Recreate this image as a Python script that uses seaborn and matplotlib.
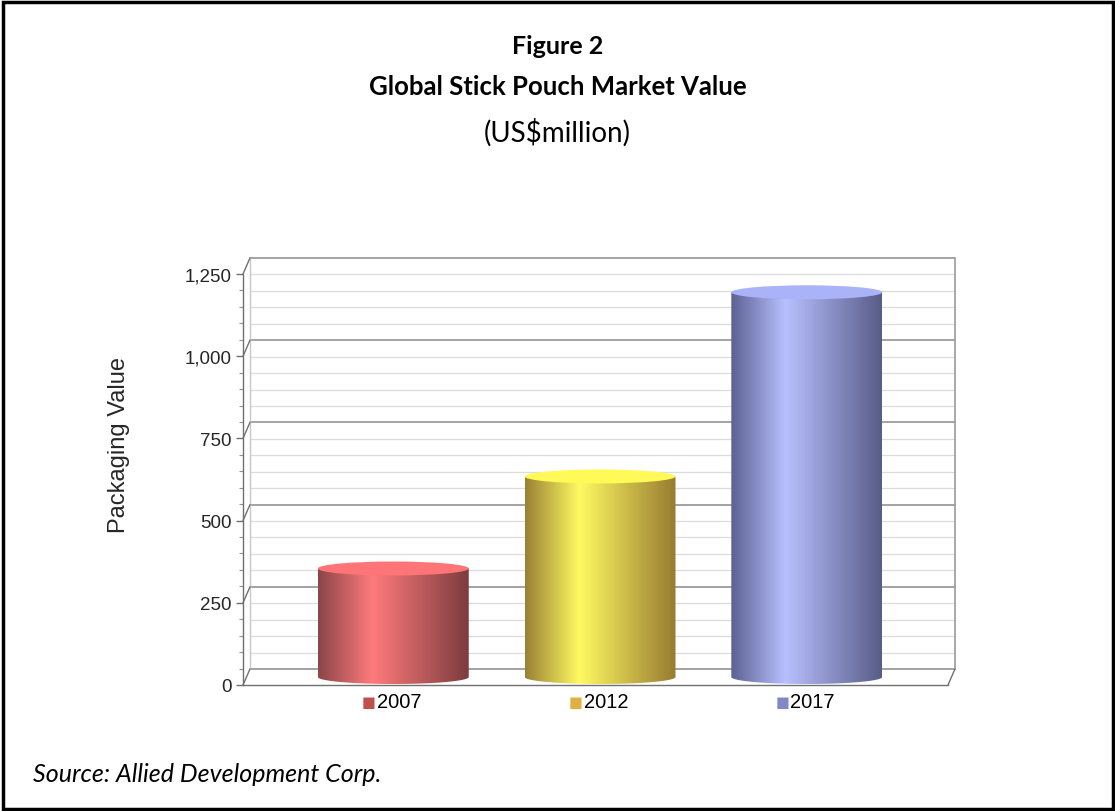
import numpy as np
import pandas as pd
import matplotlib
matplotlib.use("Agg")
import matplotlib.pyplot as plt
import seaborn as sns
from matplotlib.path import Path
from matplotlib.patches import Ellipse, Rectangle
from matplotlib.colors import LinearSegmentedColormap
from matplotlib.transforms import ScaledTranslation

# ---- data ----
years = ["2007", "2012", "2017"]
values = [330, 610, 1170]
legend_colors = ["#c0504d", "#e0b040", "#8088c8"]
side_dark_left = ["#8a4648", "#9a8034", "#5c6192"]
side_light = ["#ff7a7c", "#fffa62", "#b8c0ff"]
side_dark_right = ["#7c3c3e", "#977b30", "#585c88"]
top_colors = ["#ff7577", "#fffa58", "#aab2f8"]
y_ticks = [0, 250, 500, 750, 1000, 1250]
y_tick_labels = ["0", "250", "500", "750", "1,000", "1,250"]

title1 = "Figure 2"
title2 = "Global Stick Pouch Market Value"
title3 = "(US$million)"
ylabel = "Packaging Value"
source = "Source: Allied Development Corp."

sns.set_style("white")
plt.rcParams["font.family"] = ["Liberation Sans", "DejaVu Sans"]

W, H, DPI = 1115, 812, 100
fig = plt.figure(figsize=(W / DPI, H / DPI), dpi=DPI)

# front plane of the 3D box (pixels)
ax_l, ax_r, ax_b, ax_t = 243, 948, 686, 275
ax = fig.add_axes([ax_l / W, (H - ax_b) / H, (ax_r - ax_l) / W, (ax_b - ax_t) / H])
ax.set_facecolor("none")

df = pd.DataFrame({"year": years, "value": values})
sns.barplot(data=df, x="year", y="value", hue="year", palette=legend_colors,
            width=0.73, legend=False, ax=ax, saturation=1)

ymax = 1250
ax.set_ylim(0, ymax)
ax.set_xlim(-0.71, 2.70)

px_per_unit = (ax_b - ax_t) / ymax
depth_x, depth_y = 7, 16  # px of 3D depth
dx_ax = depth_x / (ax_r - ax_l)
dy_data = depth_y / px_per_unit

back_tr = ax.get_yaxis_transform() + ScaledTranslation(depth_x / DPI, depth_y / DPI, fig.dpi_scale_trans)
ytr = ax.get_yaxis_transform()

# back wall gridlines
for yv in np.arange(0, ymax + 1, 50):
    major = yv % 250 == 0
    ax.plot([0, 1], [yv, yv], transform=back_tr, clip_on=False,
            color="#8a8a8a" if major else "#dcdcdc", lw=1.1 if major else 0.9,
            zorder=0.5 if major else 0.4)
# back wall edges
ax.plot([1, 1], [0, ymax], transform=back_tr, clip_on=False, color="#9a9a9a", lw=1.2, zorder=0.6)
ax.plot([0, 0], [0, ymax], transform=back_tr, clip_on=False, color="#c8c8c8", lw=1.0, zorder=0.6)
# connectors from front axis to back wall at major ticks
for yv in y_ticks:
    ax.plot([0, dx_ax], [yv, yv + dy_data], transform=ytr, clip_on=False,
            color="#707070", lw=1.0, zorder=0.7)
# floor right diagonal
ax.plot([1, 1 + dx_ax], [0, dy_data], transform=ytr, clip_on=False, color="#707070", lw=1.0)

# cylinders
bar_tr = ax.transData + ScaledTranslation(depth_x / 2 / DPI, depth_y / 2 / DPI, fig.dpi_scale_trans)
ell_h = 14 / px_per_unit
for i, p in enumerate(ax.patches):
    x0, w, v = p.get_x(), p.get_width(), p.get_height()
    cx = x0 + w / 2
    p.set_visible(False)
    th = np.linspace(np.pi, 2 * np.pi, 60)
    bx = cx + w / 2 * np.cos(th)
    by = ell_h / 2 * np.sin(th)
    vx = np.concatenate([bx, [x0 + w, x0, x0]])
    vy = np.concatenate([by, [v, v, 0]])
    clip = Path(np.column_stack([vx, vy]), closed=True)
    cmap = LinearSegmentedColormap.from_list(
        f"c{i}", [(0, side_dark_left[i]), (0.36, side_light[i]), (1, side_dark_right[i])])
    grad = np.linspace(0, 1, 256).reshape(1, -1)
    im = ax.imshow(grad, extent=[x0, x0 + w, -ell_h / 2, v], aspect="auto",
                   cmap=cmap, transform=bar_tr, zorder=3, interpolation="bilinear")
    im.set_clip_path(clip, bar_tr)
    ax.add_patch(Ellipse((cx, v), w, ell_h, transform=bar_tr, facecolor=top_colors[i],
                         edgecolor="none", zorder=4))
    # legend-like labels under bars
    ax.annotate("■", xy=(cx, 0), xycoords=("data", "axes fraction"), xytext=(-14, -17),
                textcoords="offset pixels", ha="right", va="center", fontsize=10.5,
                color=legend_colors[i], family="DejaVu Sans")
    ax.annotate(years[i], xy=(cx, 0), xycoords=("data", "axes fraction"), xytext=(-13, -17),
                textcoords="offset pixels", ha="left", va="center", fontsize=14.5, color="black",
                family="Liberation Sans")

ax.set_xlim(-0.71, 2.70)
ax.set_ylim(0, ymax)
ax.set_xticks([])
ax.set_xlabel("")
ax.set_yticks(y_ticks)
ax.set_yticklabels(y_tick_labels, fontsize=13.5, family="Liberation Sans")
ax.set_yticks(np.arange(0, ymax + 1, 50), minor=True)
ax.tick_params(axis="y", which="major", length=5, width=1, color="#707070", direction="out", pad=3, left=True)
ax.tick_params(axis="y", which="minor", length=3, width=0.8, color="#909090", direction="out", left=True)
ax.set_ylabel(ylabel, fontsize=17, family="Liberation Sans")
ax.yaxis.set_label_coords((130 - ax_l) / (ax_r - ax_l), (ax_b - 445) / (ax_b - ax_t))
for s in ["top", "right"]:
    ax.spines[s].set_visible(False)
for s in ["left", "bottom"]:
    ax.spines[s].set_color("#707070")
    ax.spines[s].set_linewidth(1.0)

# titles
tfont = ["Lato", "DejaVu Sans"]
fig.text(0.5, 1 - 47 / H, title1, ha="center", va="center", fontsize=18, fontweight="bold",
         family=tfont, color="black")
fig.text(0.5, 1 - 87 / H, title2, ha="center", va="center", fontsize=18.5, fontweight="bold",
         family=tfont, color="black")
fig.text(0.5, 1 - 133 / H, title3, ha="center", va="center", fontsize=20, family=tfont, color="black")
fig.text(33 / W, 1 - 775 / H, source, ha="left", va="center", fontsize=18, style="italic",
         family=tfont, color="black")

# outer border
fig.patches.append(Rectangle((2.5 / W, 2.5 / H), 1 - 5 / W, 1 - 5 / H, transform=fig.transFigure,
                             fill=False, edgecolor="black", lw=2.5))

fig.savefig("out.png", dpi=DPI)
